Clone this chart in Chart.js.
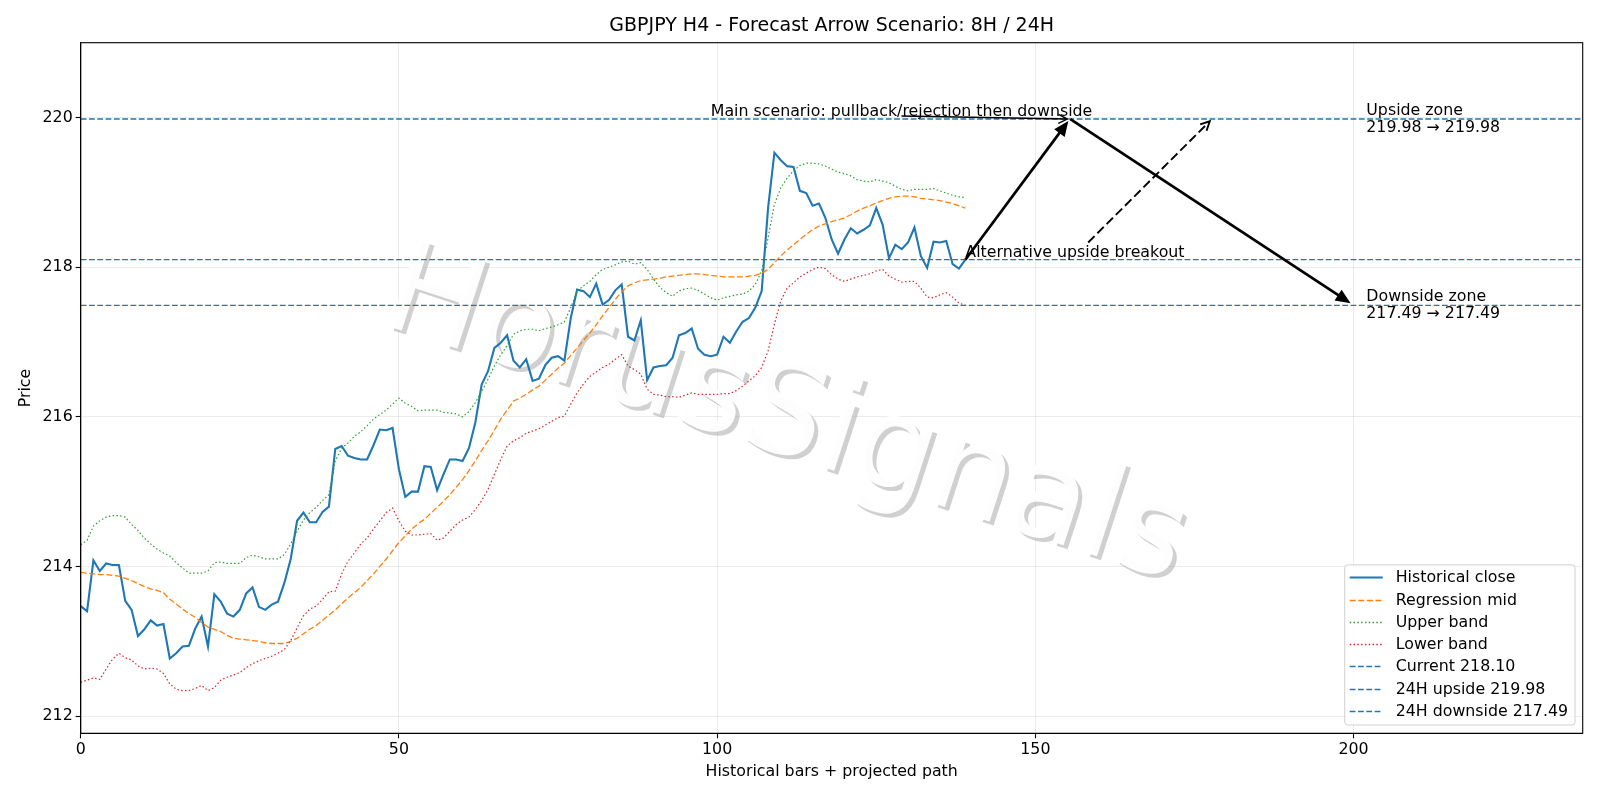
<!DOCTYPE html>
<html>
<head>
<meta charset="utf-8">
<script src="https://cdn.jsdelivr.net/npm/chart.js@4.4.0/dist/chart.umd.min.js"></script>
<style>
html, body { margin: 0; padding: 0; background: #fff; }
#wrap { width: 1600px; height: 800px; }
</style>
</head>
<body>
<div id="wrap"><canvas id="chart" width="1600" height="800"></canvas></div>
<script>
// GBPJPY H4 forecast chart

const chartTitle = 'GBPJPY H4 - Forecast Arrow Scenario: 8H / 24H';
const xTitle = 'Historical bars + projected path';
const yTitle = 'Price';
const xTicks = [0, 50, 100, 150, 200];
const yTicks = [212, 214, 216, 218, 220];
const xRange = [0, 236];
const yRange = [211.77, 221.0];

const histClose = [
    213.47, 213.40, 214.08, 213.94, 214.04, 214.02, 214.02, 213.54, 213.42, 213.07,
    213.16, 213.28, 213.21, 213.23, 212.77, 212.84, 212.93, 212.94, 213.17, 213.33,
    212.93, 213.63, 213.53, 213.37, 213.33, 213.42, 213.64, 213.72, 213.46, 213.42,
    213.49, 213.53, 213.78, 214.10, 214.61, 214.72, 214.59, 214.59, 214.73, 214.80,
    215.57, 215.61, 215.48, 215.45, 215.43, 215.43, 215.62, 215.83, 215.82, 215.85,
    215.30, 214.93, 215.00, 215.00, 215.34, 215.33, 215.02, 215.23, 215.43, 215.43,
    215.41, 215.58, 215.92, 216.43, 216.61, 216.92, 216.99, 217.09, 216.75, 216.66,
    216.77, 216.48, 216.51, 216.69, 216.79, 216.81, 216.75, 217.32, 217.70, 217.68,
    217.60, 217.78, 217.50, 217.56, 217.69, 217.77, 217.07, 217.02, 217.29, 216.49,
    216.66, 216.68, 216.69, 216.79, 217.09, 217.12, 217.18, 216.91, 216.83, 216.81,
    216.83, 217.07, 216.99, 217.14, 217.27, 217.32, 217.46, 217.68, 218.79, 219.53,
    219.43, 219.35, 219.34, 219.02, 218.99, 218.82, 218.85, 218.66, 218.37, 218.18,
    218.37, 218.52, 218.45, 218.50, 218.56, 218.79, 218.57, 218.12, 218.30, 218.24,
    218.33, 218.53, 218.15, 217.99, 218.34, 218.33, 218.35, 218.04, 217.98, 218.10
];

const regMid = [
    213.92, 213.91, 213.90, 213.89, 213.89, 213.88, 213.87, 213.84, 213.81, 213.77,
    213.73, 213.70, 213.68, 213.65, 213.56, 213.50, 213.43, 213.37, 213.32, 213.25,
    213.19, 213.16, 213.13, 213.08, 213.04, 213.03, 213.02, 213.01, 213.00, 212.98,
    212.97, 212.97, 212.97, 213.00, 213.04, 213.10, 213.16, 213.21, 213.28, 213.35,
    213.42, 213.50, 213.58, 213.65, 213.72, 213.81, 213.90, 214.00, 214.10, 214.21,
    214.32, 214.41, 214.50, 214.57, 214.63, 214.71, 214.79, 214.87, 214.96, 215.06,
    215.16, 215.28, 215.41, 215.55, 215.68, 215.82, 215.97, 216.09, 216.21, 216.25,
    216.30, 216.36, 216.41, 216.49, 216.57, 216.65, 216.72, 216.82, 216.92, 217.02,
    217.12, 217.23, 217.35, 217.46, 217.57, 217.67, 217.75, 217.79, 217.82, 217.83,
    217.84, 217.85, 217.87, 217.88, 217.89, 217.90, 217.91, 217.91, 217.90, 217.89,
    217.88, 217.87, 217.87, 217.87, 217.87, 217.88, 217.89, 217.92, 217.97, 218.06,
    218.15, 218.23, 218.30, 218.37, 218.44, 218.50, 218.55, 218.58, 218.61, 218.63,
    218.66, 218.70, 218.75, 218.79, 218.82, 218.86, 218.89, 218.92, 218.94, 218.95,
    218.95, 218.94, 218.92, 218.91, 218.90, 218.89, 218.87, 218.85, 218.82, 218.79
];

const upperBand = [
    214.29, 214.35, 214.54, 214.61, 214.66, 214.68, 214.68, 214.66, 214.56, 214.48,
    214.38, 214.30, 214.23, 214.18, 214.14, 214.05, 213.98, 213.91, 213.91, 213.91,
    213.94, 214.05, 214.06, 214.04, 214.04, 214.04, 214.12, 214.15, 214.13, 214.10,
    214.10, 214.10, 214.16, 214.30, 214.47, 214.62, 214.72, 214.79, 214.88, 214.96,
    215.41, 215.58, 215.65, 215.74, 215.80, 215.88, 215.97, 216.03, 216.09, 216.17,
    216.25, 216.18, 216.14, 216.08, 216.09, 216.09, 216.09, 216.06, 216.05, 216.04,
    216.00, 216.07, 216.19, 216.34, 216.50, 216.68, 216.83, 216.95, 217.10, 217.15,
    217.17, 217.17, 217.15, 217.18, 217.20, 217.23, 217.27, 217.46, 217.68, 217.75,
    217.81, 217.90, 217.97, 218.00, 218.03, 218.07, 218.08, 218.04, 218.06, 217.97,
    217.84, 217.73, 217.66, 217.61, 217.68, 217.71, 217.72, 217.69, 217.64, 217.59,
    217.56, 217.59, 217.61, 217.63, 217.64, 217.68, 217.77, 217.95, 218.39, 218.84,
    219.06, 219.19, 219.29, 219.36, 219.39, 219.39, 219.38, 219.35, 219.31, 219.27,
    219.25, 219.22, 219.17, 219.15, 219.14, 219.17, 219.15, 219.13, 219.08, 219.04,
    219.02, 219.04, 219.04, 219.04, 219.05, 219.02, 218.99, 218.96, 218.94, 218.93
];

const lowerBand = [
    212.45, 212.48, 212.51, 212.49, 212.63, 212.76, 212.84, 212.78, 212.75, 212.67,
    212.63, 212.64, 212.63, 212.57, 212.43, 212.36, 212.34, 212.34, 212.37, 212.41,
    212.34, 212.38, 212.48, 212.52, 212.55, 212.58, 212.65, 212.70, 212.74, 212.77,
    212.80, 212.84, 212.89, 213.01, 213.18, 213.34, 213.43, 213.47, 213.56, 213.66,
    213.67, 213.90, 214.07, 214.18, 214.30, 214.38, 214.50, 214.61, 214.72, 214.78,
    214.61, 214.47, 214.42, 214.42, 214.43, 214.44, 214.35, 214.38, 214.47, 214.56,
    214.62, 214.66, 214.76, 214.88, 215.03, 215.23, 215.43, 215.61, 215.68, 215.72,
    215.78, 215.81, 215.84, 215.89, 215.94, 215.99, 216.01, 216.17, 216.32, 216.44,
    216.54, 216.60, 216.66, 216.70, 216.77, 216.83, 216.68, 216.63, 216.57, 216.37,
    216.30, 216.29, 216.27, 216.27, 216.26, 216.29, 216.32, 216.30, 216.30, 216.30,
    216.30, 216.31, 216.31, 216.35, 216.41, 216.48, 216.55, 216.66, 216.88, 217.24,
    217.55, 217.72, 217.79, 217.87, 217.92, 217.97, 218.00, 217.98, 217.90, 217.84,
    217.81, 217.84, 217.87, 217.89, 217.91, 217.95, 217.97, 217.88, 217.84, 217.80,
    217.81, 217.81, 217.72, 217.60, 217.59, 217.63, 217.66, 217.60, 217.52, 217.49
];

const currentPrice = 218.10;
const upsideTarget = 219.98;
const downsideTarget = 217.49;

// scenario arrows (data coords)
const mainPathX = [139, 155.5, 200];
const mainPathY = [currentPrice, upsideTarget, downsideTarget];
const altFrom = [158.3, 218.33];
const altTo = [177.4, 219.95];
const mainLabelAt = [99, upsideTarget];
const altLabelAt = [139, currentPrice];
const zoneLabelX = 202;
const watermark = 'HorusSignals';

const FONT = '"DejaVu Sans", sans-serif';
const FS = 15.8;
const blue = '#1f77b4';

function points(arr) {
    return arr.map((v, i) => ({ x: i, y: v }));
}

function hline(v) {
    return [{ x: xRange[0], y: v }, { x: xRange[1], y: v }];
}

function drawArrow(ctx, x1, y1, x2, y2, o) {
    const a = Math.atan2(y2 - y1, x2 - x1);
    const hl = o.headLen, hw = o.headW;
    ctx.save();
    ctx.strokeStyle = '#000';
    ctx.fillStyle = '#000';
    ctx.lineWidth = o.lw;
    ctx.lineCap = 'butt';
    ctx.setLineDash(o.dash || []);
    const ex = o.filled ? x2 - Math.cos(a) * hl * 0.8 : x2;
    const ey = o.filled ? y2 - Math.sin(a) * hl * 0.8 : y2;
    ctx.beginPath();
    ctx.moveTo(x1, y1);
    ctx.lineTo(ex, ey);
    ctx.stroke();
    ctx.setLineDash([]);
    const bx = x2 - Math.cos(a) * hl, by = y2 - Math.sin(a) * hl;
    const nx = -Math.sin(a) * hw, ny = Math.cos(a) * hw;
    ctx.beginPath();
    ctx.moveTo(bx + nx, by + ny);
    ctx.lineTo(x2, y2);
    ctx.lineTo(bx - nx, by - ny);
    if (o.filled) {
        ctx.closePath();
        ctx.fill();
    } else {
        ctx.lineWidth = o.headLw || o.lw;
        ctx.stroke();
    }
    ctx.restore();
}

function drawWatermark(ctx, cx, cy, color) {
    ctx.save();
    ctx.font = '128px ' + FONT;
    ctx.textAlign = 'center';
    ctx.textBaseline = 'middle';
    ctx.translate(cx, cy);
    ctx.rotate(18 * Math.PI / 180);
    ctx.fillStyle = color;
    ctx.fillText(watermark, 0, 0);
    ctx.restore();
}

const decorPlugin = {
    id: 'decor',
    beforeDatasetsDraw(chart) {
        const ctx = chart.ctx;
        drawWatermark(ctx, 789, 424, 'rgba(150,150,150,0.45)');
        drawWatermark(ctx, 785, 420, 'rgba(255,255,255,0.97)');
    },
    afterDatasetsDraw(chart) {
        const ctx = chart.ctx;
        const sx = chart.scales.x, sy = chart.scales.y;
        const X = v => sx.getPixelForValue(v);
        const Y = v => sy.getPixelForValue(v);
        const area = chart.chartArea;

        // frame
        ctx.save();
        ctx.strokeStyle = '#000';
        ctx.lineWidth = 1.1;
        ctx.strokeRect(area.left, area.top, area.right - area.left, area.bottom - area.top);
        ctx.restore();

        // texts
        ctx.save();
        ctx.font = FS + 'px ' + FONT;
        ctx.fillStyle = '#000';
        ctx.textAlign = 'left';
        ctx.textBaseline = 'bottom';
        const mainText = 'Main scenario: pullback/rejection then downside';
        ctx.fillText(mainText, X(mainLabelAt[0]), Y(mainLabelAt[1]) + 1);
        const mainW = ctx.measureText(mainText).width;
        ctx.fillText('Alternative upside breakout', X(altLabelAt[0]), Y(altLabelAt[1]) + 1);
        ctx.textBaseline = 'middle';
        const yu = Y(upsideTarget), yd = Y(downsideTarget);
        ctx.fillText('Upside zone', X(zoneLabelX), yu - 8.3);
        ctx.fillText(upsideTarget.toFixed(2) + ' \u2192 ' + upsideTarget.toFixed(2), X(zoneLabelX), yu + 8.7);
        ctx.fillText('Downside zone', X(zoneLabelX), yd - 8.3);
        ctx.fillText(downsideTarget.toFixed(2) + ' \u2192 ' + downsideTarget.toFixed(2), X(zoneLabelX), yd + 8.7);
        ctx.restore();

        // thin arrow from the main label
        const mx = X(mainLabelAt[0]) + mainW / 2;
        drawArrow(ctx, mx, Y(upsideTarget) - 3, X(mainPathX[1]) - 3, Y(mainPathY[1]), { lw: 1.4, headLen: 9, headW: 4.5, filled: false });

        // thick scenario arrows
        for (let i = 0; i < mainPathX.length - 1; i++) {
            drawArrow(ctx, X(mainPathX[i]), Y(mainPathY[i]), X(mainPathX[i + 1]) - (i === 0 ? 2 : 3), Y(mainPathY[i + 1]) + (i === 0 ? 2 : -2),
                { lw: 2.7, headLen: 15, headW: 6.5, filled: true });
        }
        // dashed alternative arrow
        drawArrow(ctx, X(altFrom[0]), Y(altFrom[1]), X(altTo[0]), Y(altTo[1]),
            { lw: 1.9, dash: [9, 4], headLen: 9, headW: 4.5, filled: false, headLw: 1.9 });

        // legend
        const ds = chart.data.datasets;
        ctx.save();
        ctx.font = FS + 'px ' + FONT;
        let maxW = 0;
        ds.forEach(d => { maxW = Math.max(maxW, ctx.measureText(d.label).width); });
        const rowH = 22.3;
        const boxR = area.right - 7.7, boxB = area.bottom - 8.3;
        const boxW = 51 + maxW + 7, boxH = rowH * ds.length + 4;
        const boxL = boxR - boxW, boxT = boxB - boxH;
        ctx.beginPath();
        ctx.roundRect(boxL, boxT, boxW, boxH, 3);
        ctx.fillStyle = 'rgba(255,255,255,0.8)';
        ctx.fill();
        ctx.strokeStyle = '#d0d0d0';
        ctx.lineWidth = 1;
        ctx.stroke();
        ds.forEach((d, i) => {
            const cy = Math.round(boxT + 12.3 + i * rowH) + 0.5;
            ctx.beginPath();
            ctx.setLineDash(d.borderDash || []);
            ctx.strokeStyle = d.borderColor;
            ctx.lineWidth = Math.max(d.borderWidth, 1.3);
            ctx.moveTo(boxL + 5, cy);
            ctx.lineTo(boxL + 38, cy);
            ctx.stroke();
            ctx.setLineDash([]);
            ctx.fillStyle = '#000';
            ctx.textAlign = 'left';
            ctx.textBaseline = 'middle';
            ctx.fillText(d.label, boxL + 51, cy);
        });
        ctx.restore();

        // title
        ctx.save();
        ctx.font = '19px ' + FONT;
        ctx.fillStyle = '#000';
        ctx.textAlign = 'center';
        ctx.textBaseline = 'middle';
        ctx.fillText(chartTitle, (area.left + area.right) / 2, 26.5);
        ctx.restore();
    }
};

const lineDefaults = { fill: false, pointRadius: 0, tension: 0 };

new Chart(document.getElementById('chart'), {
    type: 'line',
    data: {
        datasets: [
            { ...lineDefaults, label: 'Historical close', data: points(histClose), borderColor: blue, borderWidth: 2.1, order: 7 },
            { ...lineDefaults, label: 'Regression mid', data: points(regMid), borderColor: '#ff7f0e', borderWidth: 1.3, borderDash: [6, 2.6], order: 6 },
            { ...lineDefaults, label: 'Upper band', data: points(upperBand), borderColor: '#2ca02c', borderWidth: 1.2, borderDash: [1.5, 2.3], order: 5 },
            { ...lineDefaults, label: 'Lower band', data: points(lowerBand), borderColor: '#d62728', borderWidth: 1.2, borderDash: [1.5, 2.3], order: 4 },
            { ...lineDefaults, label: 'Current ' + currentPrice.toFixed(2), data: hline(currentPrice), borderColor: blue, borderWidth: 1.3, borderDash: [5.8, 2.5], order: 3 },
            { ...lineDefaults, label: '24H upside ' + upsideTarget.toFixed(2), data: hline(upsideTarget), borderColor: blue, borderWidth: 1.3, borderDash: [5.8, 2.5], order: 2 },
            { ...lineDefaults, label: '24H downside ' + downsideTarget.toFixed(2), data: hline(downsideTarget), borderColor: blue, borderWidth: 1.3, borderDash: [5.8, 2.5], order: 1 }
        ]
    },
    options: {
        responsive: false,
        animation: false,
        devicePixelRatio: 1,
        layout: { padding: { top: 42.7, right: 17.3, left: 0, bottom: 0 } },
        plugins: { legend: { display: false }, tooltip: { enabled: false } },
        scales: {
            x: {
                type: 'linear',
                min: xRange[0],
                max: xRange[1],
                afterBuildTicks: s => { s.ticks = xTicks.map(v => ({ value: v })); },
                afterFit: s => { s.height = 66.7; },
                grid: { color: 'rgba(176,176,176,0.3)', lineWidth: 0.8, tickLength: 5, tickColor: '#000', tickWidth: 1.1 },
                border: { display: true, color: '#000', width: 1.1 },
                ticks: { color: '#000', font: { family: FONT, size: FS }, padding: 2, maxRotation: 0 },
                title: { display: true, text: xTitle, color: '#000', font: { family: FONT, size: FS }, padding: { top: 0, bottom: 19.1 } }
            },
            y: {
                type: 'linear',
                min: yRange[0],
                max: yRange[1],
                afterBuildTicks: s => { s.ticks = yTicks.map(v => ({ value: v })); },
                afterFit: s => { s.width = 80.7; },
                grid: { color: 'rgba(176,176,176,0.3)', lineWidth: 0.8, tickLength: 5, tickColor: '#000', tickWidth: 1.1 },
                border: { display: true, color: '#000', width: 1.1 },
                ticks: { color: '#000', font: { family: FONT, size: FS }, padding: 3 },
                title: { display: true, text: yTitle, color: '#000', font: { family: FONT, size: FS }, padding: { top: 16, bottom: 0 } }
            }
        }
    },
    plugins: [decorPlugin]
});
</script>
</body>
</html>
